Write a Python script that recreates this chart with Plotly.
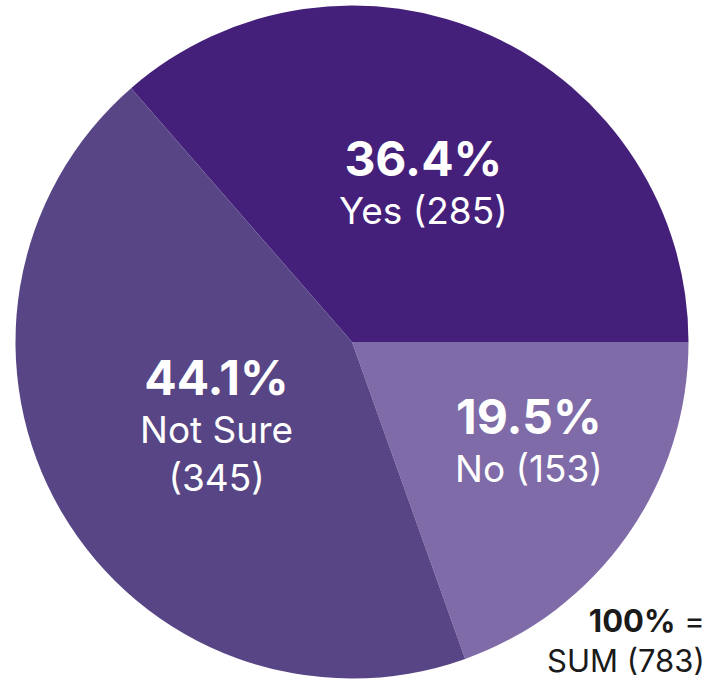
import plotly.graph_objects as go
import math

labels = ["Yes", "No", "Not Sure"]
values = [285, 153, 345]
colors = ["#45207A", "#7E6BA8", "#574585"]
label_text = ["Yes (285)", "No (153)", "Not Sure<br>(345)"]
radial_frac = [0.525, 0.60, 0.47]
angle_shift = [-0.5, -6.5, -1.0]

total = sum(values)
W, H = 721, 681
cx, cy, R = 352, 342, 336.5
rotation = 90 - values[0] / total * 360

fig = go.Figure(go.Pie(
    labels=labels, values=values, sort=False, direction="clockwise",
    rotation=rotation, marker=dict(colors=colors, line=dict(width=0)),
    textinfo="none", hoverinfo="label+value+percent", showlegend=False,
    domain=dict(x=[(cx - R) / W, (cx + R) / W], y=[(H - cy - R) / H, (H - cy + R) / H]),
))

font = "Inter, Open Sans, sans-serif"
annotations = []
start = rotation
for i, v in enumerate(values):
    span = v / total * 360
    mid = math.radians(start + span / 2 + angle_shift[i])
    start += span
    px = cx + R * radial_frac[i] * math.sin(mid)
    py = cy - R * radial_frac[i] * math.cos(mid)
    pct = v / total * 100
    annotations.append(dict(
        x=px / W, y=1 - py / H, xref="paper", yref="paper", showarrow=False,
        xanchor="center", yanchor="middle", align="center",
        text=f"<b><span style='font-size:48px'>{pct:.1f}%</span></b><br>{label_text[i]}",
        font=dict(family=font, size=37, color="white"),
    ))

annotations.append(dict(
    x=707 / W, y=0, xref="paper", yref="paper", showarrow=False,
    xanchor="right", yanchor="bottom", align="right",
    text=f"<b>100%</b> =<br>SUM ({total})",
    font=dict(family=font, size=31, color="#1a1a1a"),
))

fig.update_layout(
    width=W, height=H, margin=dict(l=0, r=0, t=0, b=0),
    paper_bgcolor="white", plot_bgcolor="white",
    annotations=annotations,
)
fig.write_html("out.html")
